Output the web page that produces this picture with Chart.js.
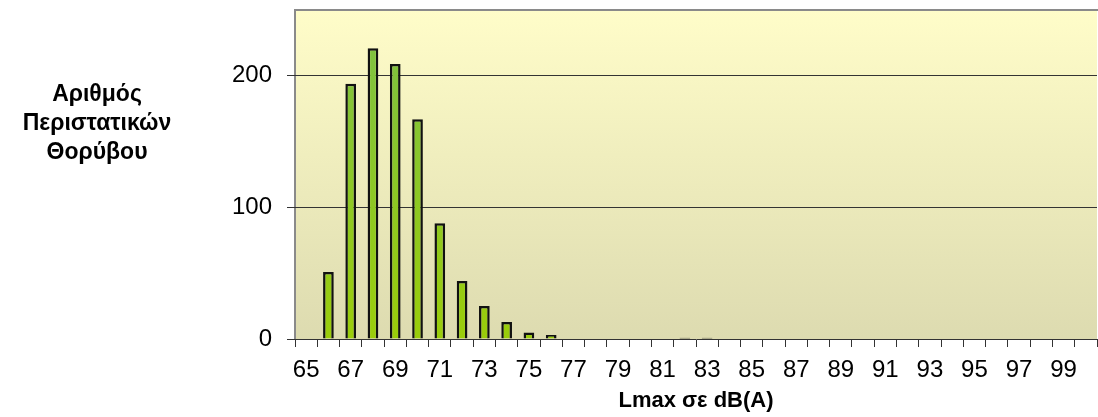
<!DOCTYPE html>
<html>
<head>
<meta charset="utf-8">
<script src="https://cdn.jsdelivr.net/npm/chart.js@4/dist/chart.umd.min.js"></script>
<style>
  html, body { margin: 0; padding: 0; background: #fff; }
  #wrap { width: 1098px; height: 417px; }
</style>
</head>
<body>
<div id="wrap"><canvas id="noiseChart"></canvas></div>
<script>
// Lmax classes (dB(A)) and number of noise events
var levels = ["65","66","67","68","69","70","71","72","73","74","75","76","77","78","79","80","81","82",
              "83","84","85","86","87","88","89","90","91","92","93","94","95","96","97","98","99","100"];
var events = [0, 51, 194, 221, 209, 167, 88, 44, 25, 13, 5, 3, 0, 0, 0, 0, 0, 1,
              1, 0, 0, 0, 0, 0, 0, 0, 0, 0, 0, 0, 0, 0, 0, 0, 0, 0];
var yTicks = [0, 100, 200];
var yTitle = ["Αριθμός", "Περιστατικών", "Θορύβου"];
var xTitle = "Lmax σε dB(A)";

var FONT = "Liberation Sans";

// plot background + frame, and the horizontal y title
var plotDecor = {
    id: 'plotDecor',
    beforeDraw: function (chart) {
        var ctx = chart.ctx, a = chart.chartArea;
        var g = ctx.createLinearGradient(0, a.top, 0, a.bottom);
        g.addColorStop(0, '#fffdc9');
        g.addColorStop(1, '#dddbb0');
        ctx.save();
        ctx.fillStyle = g;
        ctx.fillRect(a.left, a.top, a.right - a.left, a.bottom - a.top);
        ctx.strokeStyle = '#8a8a8a';
        ctx.lineWidth = 2;
        ctx.beginPath();
        ctx.moveTo(a.left, a.bottom);
        ctx.lineTo(a.left, a.top);
        ctx.lineTo(a.right + 2, a.top);
        ctx.stroke();
        ctx.restore();
    },
    afterDraw: function (chart) {
        var ctx = chart.ctx;
        ctx.save();
        ctx.fillStyle = '#000';
        ctx.font = 'bold 23px "' + FONT + '"';
        ctx.textAlign = 'center';
        ctx.textBaseline = 'middle';
        for (var i = 0; i < yTitle.length; i++) {
            ctx.fillText(yTitle[i], 97, 95 + i * 29);
        }
        ctx.restore();
    }
};

function barFill(c) {
    var a = c.chart.chartArea;
    if (!a) return '#8cc63a';
    var g = c.chart.ctx.createLinearGradient(0, a.top, 0, a.bottom);
    g.addColorStop(0, '#7cc046');
    g.addColorStop(1, '#9acd0a');
    return g;
}

var ctx = document.getElementById('noiseChart').getContext('2d');
var myChart = new Chart(ctx, {
    type: 'bar',
    data: {
        labels: levels,
        datasets: [{
            label: "Περιστατικά",
            data: events,
            backgroundColor: barFill,
            borderColor: '#111',
            borderWidth: 2.5,
            borderSkipped: function (c) { return c.raw < 3 ? false : 'start'; },
            barPercentage: 0.48,
            categoryPercentage: 1
        }]
    },
    options: {
        responsive: true,
        maintainAspectRatio: false,
        animation: false,
        layout: { padding: { top: 10, right: 1, left: 0, bottom: 0 } },
        plugins: {
            legend: { display: false },
            tooltip: { enabled: false }
        },
        scales: {
            x: {
                offset: true,
                grid: {
                    offset: true,
                    drawOnChartArea: false,
                    tickLength: 8,
                    color: '#333'
                },
                border: { color: '#333', width: 1 },
                ticks: {
                    color: '#000',
                    font: { family: FONT, size: 24 },
                    maxRotation: 0,
                    autoSkip: false,
                    padding: 9,
                    callback: function (v, i) { return i % 2 === 0 ? levels[i] : ''; }
                },
                title: {
                    display: true,
                    text: xTitle,
                    color: '#000',
                    font: { family: FONT, size: 22, weight: 'bold' },
                    padding: { top: 0, bottom: 3 }
                },
                afterFit: function (scale) {
                    scale.height = 78;
                    scale.paddingLeft = 0;
                    scale.paddingRight = 0;
                }
            },
            y: {
                min: 0,
                max: 250,
                afterBuildTicks: function (scale) {
                    scale.ticks = yTicks.map(function (v) { return { value: v }; });
                },
                grid: {
                    color: function (c) { return c.tick && c.tick.value === 0 ? 'rgba(0,0,0,0)' : '#333'; },
                    tickColor: '#333',
                    tickLength: 8
                },
                border: { display: false },
                ticks: {
                    color: '#000',
                    font: { family: FONT, size: 24 },
                    padding: 15
                },
                afterFit: function (scale) {
                    scale.width = 295;
                    scale.paddingTop = 0;
                    scale.paddingBottom = 0;
                }
            }
        }
    },
    plugins: [plotDecor]
});
</script>
</body>
</html>
